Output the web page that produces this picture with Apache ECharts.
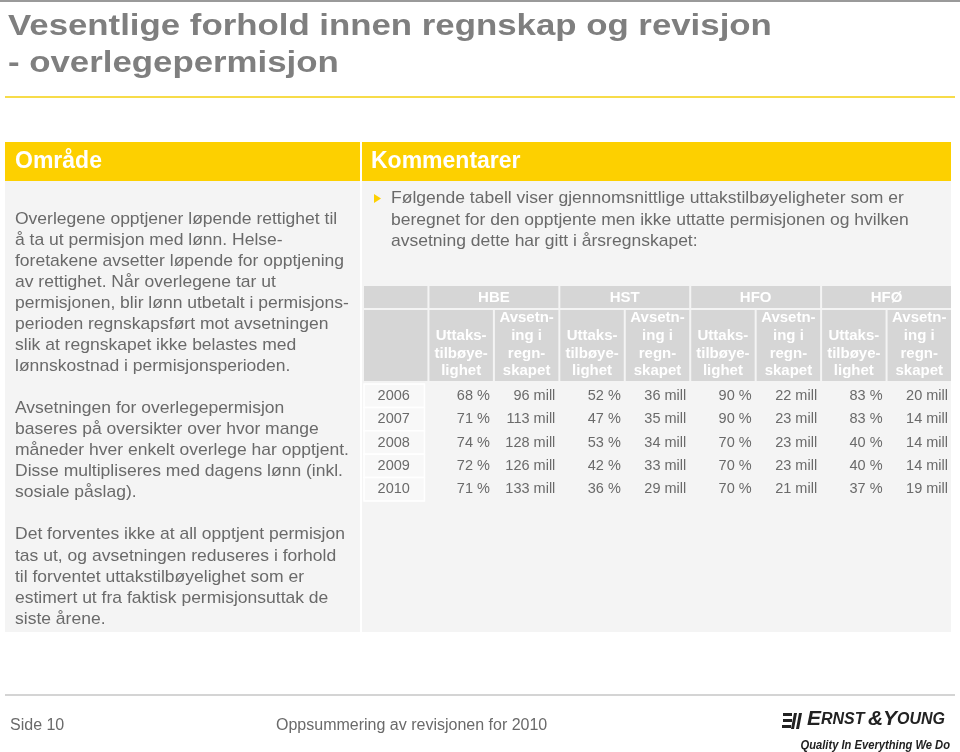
<!DOCTYPE html>
<html><head><meta charset="utf-8">
<script src="https://cdn.jsdelivr.net/npm/echarts@6/dist/echarts.min.js"></script>
<style>html,body{margin:0;padding:0;background:#fff}#c{width:960px;height:752px}</style>
</head><body><div id="c"></div>
<script>
// ---- data ----
const years = ['2006', '2007', '2008', '2009', '2010'];
const groups = ['HBE', 'HST', 'HFO', 'HFØ'];
const subHeaders = ['Uttaks-\ntilbøye-\nlighet', 'Avsetn-\ning i\nregn-\nskapet'];
const columns = ['År', 'HBE-u', 'HBE-a', 'HST-u', 'HST-a', 'HFO-u', 'HFO-a', 'HFØ-u', 'HFØ-a'];
const hbeRate = [68, 71, 74, 72, 71];
const hbeProv = [96, 113, 128, 126, 133];
const hstRate = [52, 47, 53, 42, 36];
const hstProv = [36, 35, 34, 33, 29];
const hfoRate = [90, 90, 70, 70, 70];
const hfoProv = [22, 23, 23, 23, 21];
const hfoeRate = [83, 83, 40, 40, 37];
const hfoeProv = [20, 14, 14, 14, 19];

const FONT = "'Liberation Sans', Arial, Helvetica, sans-serif";
const TXT = '#6a6a6a';
const YEL = '#fdd000';
const HEAD = '#d6d6d6';

// ---- table cells built from the arrays ----
const topCells = [{ col: 0, span: 1, text: '' }].concat(
  groups.map((g, i) => ({ col: 1 + 2 * i, span: 2, text: g })));
const subCells = columns.map((c, i) => ({ col: i, text: i === 0 ? '' : subHeaders[(i - 1) % 2] }));
const rateSeries = [hbeRate, hstRate, hfoRate, hfoeRate];
const provSeries = [hbeProv, hstProv, hfoProv, hfoeProv];
const bodyCells = [];
years.forEach((y, r) => {
  bodyCells.push({ col: 0, row: r, text: y, year: true });
  for (let g = 0; g < groups.length; g++) {
    bodyCells.push({ col: 1 + 2 * g, row: r, text: rateSeries[g][r] + ' %' });
    bodyCells.push({ col: 2 + 2 * g, row: r, text: provSeries[g][r] + ' mill' });
  }
});

function hideAxis(o) {
  return Object.assign({
    axisLine: { show: false }, axisTick: { show: false },
    axisLabel: { show: false }, splitLine: { show: false }
  }, o);
}

function renderTop(params, api) {
  const cell = topCells[params.dataIndex];
  const c = api.coord([api.value(0), api.value(1)]);
  const w = api.size([1, 0])[0], h = api.size([0, 1])[1];
  const left = c[0] - w / 2, width = w * cell.span, top = c[1] - h / 2;
  return { type: 'group', children: [
    { type: 'rect', shape: { x: left + 1, y: top, width: width - 2, height: h }, style: { fill: HEAD } },
    { type: 'text', style: { x: left + width / 2, y: c[1] + 1, text: cell.text, fill: '#fff',
      font: 'bold 15px ' + FONT, align: 'center', verticalAlign: 'middle' } }
  ] };
}
function renderSub(params, api) {
  const cell = subCells[params.dataIndex];
  const c = api.coord([api.value(0), api.value(1)]);
  const w = api.size([1, 0])[0], h = api.size([0, 1])[1];
  const left = c[0] - w / 2, top = c[1] - h / 2;
  return { type: 'group', children: [
    { type: 'rect', shape: { x: left + 1, y: top, width: w - 2, height: h }, style: { fill: HEAD } },
    { type: 'text', style: { x: c[0], y: top + h - 1, text: cell.text, fill: '#fff',
      font: 'bold 15px ' + FONT, lineHeight: 17.7, align: 'center', verticalAlign: 'bottom' } }
  ] };
}
function renderBody(params, api) {
  const cell = bodyCells[params.dataIndex];
  const c = api.coord([api.value(0), api.value(1)]);
  const w = api.size([1, 0])[0], h = api.size([0, 1])[1];
  const left = c[0] - w / 2, top = c[1] - h / 2;
  if (cell.year) {
    return { type: 'group', children: [
      { type: 'rect', shape: { x: left + 1, y: top, width: w - 5, height: h }, style: { fill: '#f8f8f8', stroke: '#ffffff', lineWidth: 1.5 } },
      { type: 'text', style: { x: c[0] - 2, y: c[1], text: cell.text, fill: TXT,
        font: '14.5px ' + FONT, align: 'center', verticalAlign: 'middle' } }
    ] };
  }
  return { type: 'text', style: { x: left + w - 4, y: c[1], text: cell.text, fill: TXT,
    font: '14.5px ' + FONT, align: 'right', verticalAlign: 'middle' } };
}

const leftText = [
  'Overlegene opptjener løpende rettighet til',
  'å ta ut permisjon med lønn. Helse-',
  'foretakene avsetter løpende for opptjening',
  'av rettighet. Når overlegene tar ut',
  'permisjonen, blir lønn utbetalt i permisjons-',
  'perioden regnskapsført mot avsetningen',
  'slik at regnskapet ikke belastes med',
  'lønnskostnad i permisjonsperioden.',
  '',
  'Avsetningen for overlegepermisjon',
  'baseres på oversikter over hvor mange',
  'måneder hver enkelt overlege har opptjent.',
  'Disse multipliseres med dagens lønn (inkl.',
  'sosiale påslag).',
  '',
  'Det forventes ikke at all opptjent permisjon',
  'tas ut, og avsetningen reduseres i forhold',
  'til forventet uttakstilbøyelighet som er',
  'estimert ut fra faktisk permisjonsuttak de',
  'siste årene.'
].join('\n');
const rightText = [
  'Følgende tabell viser gjennomsnittlige uttakstilbøyeligheter som er',
  'beregnet for den opptjente men ikke uttatte permisjonen og hvilken',
  'avsetning dette har gitt i årsregnskapet:'
].join('\n');

const chart = echarts.init(document.getElementById('c'), null, { renderer: 'canvas' });
chart.setOption({
  backgroundColor: '#ffffff',
  animation: false,
  graphic: [
    { type: 'rect', shape: { x: 0, y: 0, width: 960, height: 2 }, style: { fill: '#9a9a9a' } },
    { type: 'text', x: 8, y: 27, scaleX: 1.16, style: { text: 'Vesentlige forhold innen regnskap og revisjon', fill: '#7f7f7f',
      font: 'bold 30px ' + FONT, verticalAlign: 'middle' } },
    { type: 'text', x: 8, y: 64, scaleX: 1.16, style: { text: '- overlegepermisjon', fill: '#7f7f7f',
      font: 'bold 30px ' + FONT, verticalAlign: 'middle' } },
    { type: 'rect', shape: { x: 5, y: 96, width: 950, height: 2 }, style: { fill: '#f7dc4a' } },
    // panels
    { type: 'rect', shape: { x: 5, y: 142, width: 355, height: 490 }, style: { fill: '#f4f4f4' } },
    { type: 'rect', shape: { x: 362, y: 142, width: 589, height: 490 }, style: { fill: '#f4f4f4' } },
    { type: 'rect', shape: { x: 5, y: 142, width: 355, height: 39 }, style: { fill: YEL } },
    { type: 'rect', shape: { x: 362, y: 142, width: 589, height: 39 }, style: { fill: YEL } },
    { type: 'text', x: 15, y: 162, style: { text: 'Område', fill: '#fff', font: 'bold 23px ' + FONT, verticalAlign: 'middle' } },
    { type: 'text', x: 371, y: 162, style: { text: 'Kommentarer', fill: '#fff', font: 'bold 23px ' + FONT, verticalAlign: 'middle' } },
    { type: 'text', x: 15, y: 208.5, scaleX: 1.03, style: { text: leftText, fill: TXT, font: '17px ' + FONT, lineHeight: 21.05, verticalAlign: 'top' } },
    { type: 'polygon', shape: { points: [[374, 194], [381, 198.5], [374, 203]] }, style: { fill: YEL } },
    { type: 'text', x: 391, y: 188, scaleX: 1.03, style: { text: rightText, fill: TXT, font: '17px ' + FONT, lineHeight: 21.5, verticalAlign: 'top' } },
    // footer
    { type: 'rect', shape: { x: 5, y: 694, width: 950, height: 2 }, style: { fill: '#d4d4d4' } },
    { type: 'text', x: 10, y: 726, style: { text: 'Side 10', fill: TXT, font: '16px ' + FONT, verticalAlign: 'middle' } },
    { type: 'text', x: 276, y: 726, style: { text: 'Oppsummering av revisjonen for 2010', fill: TXT, font: '16px ' + FONT, verticalAlign: 'middle' } },
    // logo
    { type: 'rect', shape: { x: 783, y: 713, width: 9, height: 3 }, style: { fill: '#222' } },
    { type: 'rect', shape: { x: 783, y: 719, width: 9, height: 3 }, style: { fill: '#222' } },
    { type: 'rect', shape: { x: 782, y: 725, width: 9, height: 3 }, style: { fill: '#222' } },
    { type: 'polygon', shape: { points: [[794, 713], [797, 713], [794, 729], [791, 729]] }, style: { fill: '#222' } },
    { type: 'polygon', shape: { points: [[799, 713], [802, 713], [799, 729], [796, 729]] }, style: { fill: '#222' } },
    { type: 'text', x: 807, y: 730, style: {
      text: '{b|E}{s|RNST} {b|&}{b|Y}{s|OUNG}', verticalAlign: 'bottom',
      rich: {
        b: { font: 'italic bold 21px ' + FONT, fill: '#222' },
        s: { font: 'italic bold 16px ' + FONT, fill: '#222' }
      } } },
    { type: 'text', x: 950, y: 745, scaleX: 0.86, style: { text: 'Quality In Everything We Do', fill: '#222',
      font: 'italic bold 13px ' + FONT, align: 'right', verticalAlign: 'middle' } }
  ],
  grid: [
    { left: 363, top: 286, width: 589, height: 22 },
    { left: 363, top: 310, width: 589, height: 71 },
    { left: 363, top: 384, width: 589, height: 117 }
  ],
  xAxis: [0, 1, 2].map(i => hideAxis({ type: 'category', gridIndex: i, data: columns })),
  yAxis: [
    hideAxis({ type: 'category', gridIndex: 0, data: ['gruppe'] }),
    hideAxis({ type: 'category', gridIndex: 1, data: ['kolonne'] }),
    hideAxis({ type: 'category', gridIndex: 2, data: years, inverse: true })
  ],
  series: [
    { type: 'custom', xAxisIndex: 0, yAxisIndex: 0, renderItem: renderTop, data: topCells.map(c => [c.col, 0]) },
    { type: 'custom', xAxisIndex: 1, yAxisIndex: 1, renderItem: renderSub, data: subCells.map(c => [c.col, 0]) },
    { type: 'custom', xAxisIndex: 2, yAxisIndex: 2, renderItem: renderBody, data: bodyCells.map(c => [c.col, c.row]) }
  ]
});
</script></body></html>
